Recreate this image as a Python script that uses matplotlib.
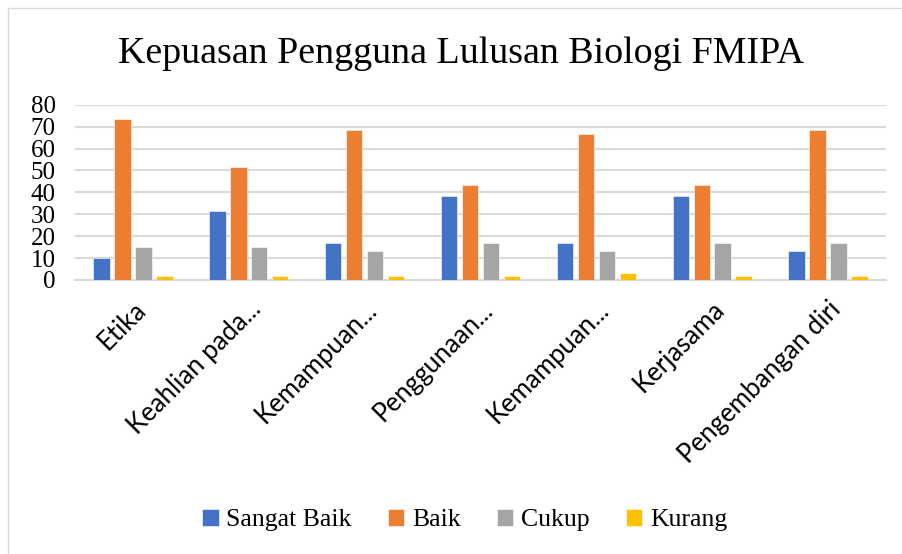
import numpy as np
import matplotlib.pyplot as plt
from matplotlib.patches import Rectangle

# Data (percent of respondents)
categories = ['Etika', 'Keahlian pada...', 'Kemampuan...', 'Penggunaan...',
              'Kemampuan...', 'Kerjasama', 'Pengembangan diri']
series_names = ['Sangat Baik', 'Baik', 'Cukup', 'Kurang']
sangat_baik = [10.0, 31.7, 16.7, 38.3, 16.7, 38.3, 13.3]
baik = [73.3, 51.7, 68.3, 43.3, 66.7, 43.3, 68.3]
cukup = [15.0, 15.0, 13.3, 16.7, 13.3, 16.7, 16.7]
kurang = [1.7, 1.7, 1.7, 1.7, 3.3, 1.7, 1.7]
yticks = [0, 10, 20, 30, 40, 50, 60, 70, 80]

colors = ['#4472C4', '#ED7D31', '#A5A5A5', '#FFC000']
serif = 'Liberation Serif'
sans = 'Lato'

fig = plt.figure(figsize=(9.02, 5.54), dpi=100)
ax = fig.add_axes([75 / 902, 1 - 280 / 554, (886 - 75) / 902, (280 - 104.7) / 554])

x = np.arange(len(categories))
step = 0.181
width = 0.142
for i, (vals, name) in enumerate(zip([sangat_baik, baik, cukup, kurang], series_names)):
    ax.bar(x + (i - 1.5) * step, vals, width, color=colors[i], label=name,
           edgecolor='white', linewidth=0.4, zorder=3)

ax.set_xlim(-0.5, len(categories) - 0.5)
ax.set_ylim(0, 80)
ax.set_yticks(yticks)
ax.set_yticklabels([str(t) for t in yticks], fontfamily=serif, fontsize=18)
ax.yaxis.grid(True, color='#d9d9d9', linewidth=1.5, zorder=0)
ax.set_axisbelow(True)
for s in ['top', 'right', 'left']:
    ax.spines[s].set_visible(False)
ax.spines['bottom'].set_color('#d9d9d9')
ax.spines['bottom'].set_linewidth(1.5)
ax.tick_params(axis='both', length=0)
ax.tick_params(axis='y', pad=14)

ax.set_xticks(x)
ax.set_xticklabels(categories, rotation=45, ha='right', rotation_mode='anchor',
                   fontfamily=sans, fontsize=18.5)
ax.tick_params(axis='x', pad=12)

fig.text(0.5116, 1 - 54 / 554, 'Kepuasan Pengguna Lulusan Biologi FMIPA',
         ha='center', va='center', fontfamily=serif, fontsize=27.3)

fig.legend(loc='center', bbox_to_anchor=(0.515, 1 - 520 / 554), ncol=4,
           frameon=False, prop={'family': serif, 'size': 18.5},
           handlelength=0.65, handleheight=0.65, handletextpad=0.3, columnspacing=1.4)

fig.patches.append(Rectangle((8 / 902, -0.01), 1.0, 1 - 8 / 554 + 0.01,
                             transform=fig.transFigure, fill=False,
                             edgecolor='#d9d9d9', linewidth=1))

fig.savefig('out.png', dpi=100)
